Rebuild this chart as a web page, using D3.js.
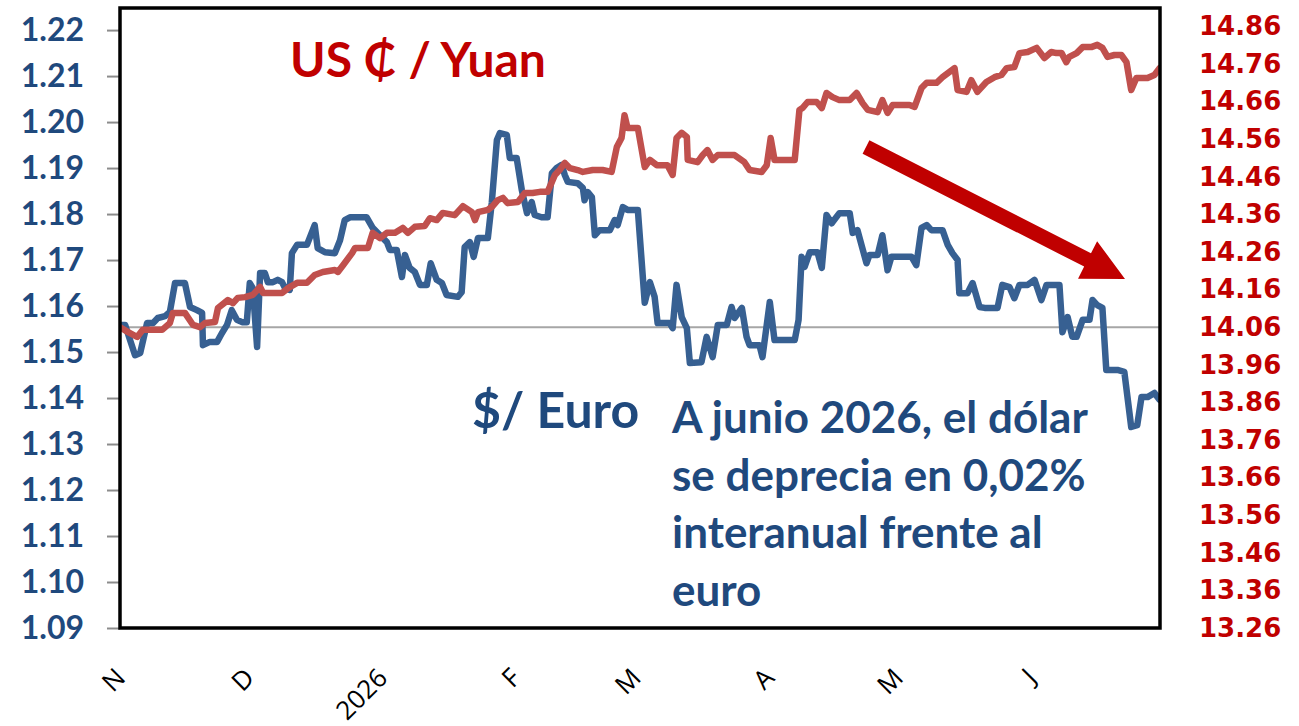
<!DOCTYPE html>
<html>
<head>
<meta charset="utf-8">
<script src="https://cdn.jsdelivr.net/npm/d3@7/dist/d3.min.js"></script>
<style>
  body { margin: 0; background: #fff; }
</style>
</head>
<body>
<div id="chart"></div>
<script>
// days counted from 1 Nov 2025 at each turn of the line
var euroDay = [0,1.2,3.5,4.7,6.3,7.7,8.8,10.5,11.6,12.8,15.1,16.3,17.9,19.1,19.3,20.9,22.6,23.7,24.9,26.0,27.2,28.4,29.5,30.2,30.9,31.9,32.6,33.7,34.4,35.6,36.7,37.7,38.4,39.5,40.0,41.2,43.5,45.3,46.0,47.7,50.0,51.2,52.3,53.5,57.4,58.8,60.5,62.1,62.8,64.4,65.6,66.3,67.4,68.6,69.8,71.4,72.3,73.7,74.9,76.0,78.6,79.5,80.2,81.4,82.3,83.3,85.6,86.5,87.7,88.4,90.0,90.7,92.3,93.5,94.7,95.8,96.5,98.1,99.5,100.5,101.6,102.8,103.5,104.2,106.5,107.7,108.1,108.8,109.8,110.5,111.6,114.0,115.1,115.8,117.0,118.1,120.5,122.1,123.3,124.4,125.1,127.9,128.6,129.5,130.7,131.9,132.6,135.3,136.5,137.9,139.1,141.2,142.3,143.0,144.7,145.8,146.5,148.8,149.5,151.2,152.3,157.0,157.9,158.6,159.3,160.5,162.3,163.3,164.4,165.6,167.4,169.8,170.5,171.6,173.7,174.4,176.3,177.4,178.6,179.5,184.2,185.3,186.5,187.7,188.8,191.4,192.6,193.7,194.9,195.3,197.2,198.4,200.0,201.2,204.2,205.3,207.0,208.1,209.3,211.2,212.8,214.4,215.6,218.6,219.3,220.5,221.6,222.6,224.0,225.6,226.3,227.4,228.6,229.5,232.1,233.7,235.3,236.7,237.7,239.1,240.7,241.9];
var euroVal = [1.1559,1.1559,1.1493,1.1498,1.1563,1.1563,1.1574,1.1578,1.1587,1.1650,1.1650,1.1598,1.1591,1.1585,1.1515,1.1522,1.1522,1.1541,1.1559,1.1591,1.1570,1.1565,1.1565,1.1650,1.1639,1.1511,1.1672,1.1672,1.1652,1.1652,1.1657,1.1652,1.1639,1.1635,1.1715,1.1733,1.1733,1.1776,1.1726,1.1717,1.1715,1.1743,1.1787,1.1793,1.1793,1.1770,1.1754,1.1739,1.1722,1.1722,1.1663,1.1711,1.1683,1.1674,1.1646,1.1646,1.1693,1.1657,1.1650,1.1624,1.1620,1.1630,1.1728,1.1739,1.1707,1.1748,1.1748,1.1824,1.1961,1.1976,1.1972,1.1922,1.1922,1.1852,1.1802,1.1826,1.1798,1.1793,1.1793,1.1889,1.1900,1.1907,1.1885,1.1870,1.1867,1.1857,1.1830,1.1848,1.1837,1.1754,1.1765,1.1765,1.1787,1.1776,1.1815,1.1809,1.1809,1.1607,1.1652,1.1620,1.1563,1.1563,1.1552,1.1646,1.1576,1.1552,1.1476,1.1478,1.1533,1.1489,1.1559,1.1559,1.1598,1.1574,1.1596,1.1533,1.1515,1.1515,1.1489,1.1609,1.1526,1.1526,1.1570,1.1707,1.1685,1.1717,1.1717,1.1683,1.1798,1.1780,1.1802,1.1802,1.1759,1.1765,1.1693,1.1711,1.1711,1.1754,1.1678,1.1707,1.1707,1.1689,1.1770,1.1776,1.1765,1.1765,1.1733,1.1715,1.1700,1.1628,1.1628,1.1650,1.1598,1.1596,1.1596,1.1646,1.1641,1.1617,1.1646,1.1646,1.1657,1.1613,1.1646,1.1646,1.1543,1.1576,1.1533,1.1533,1.1570,1.1570,1.1613,1.1602,1.1596,1.1461,1.1461,1.1457,1.1337,1.1341,1.1402,1.1402,1.1411,1.1396];
var yuanDay = [0,1.9,4.0,5.3,9.8,11.6,12.3,15.1,17.0,18.6,19.8,22.1,22.8,25.1,26.3,27.4,29.1,30.9,32.6,33.3,37.7,39.1,41.2,43.5,45.3,47.2,50.0,50.7,51.9,54.0,54.7,57.7,58.8,60.5,62.1,64.0,65.8,67.0,68.6,70.9,72.1,73.7,75.1,77.9,79.8,81.9,82.6,83.3,85.6,86.7,87.9,89.1,90.2,92.6,94.2,96.0,97.7,99.5,101.2,102.3,103.5,104.7,106.5,107.7,110.0,112.3,114.4,115.6,116.7,117.4,118.1,120.5,122.1,123.3,124.9,127.4,128.6,129.5,130.7,131.9,132.1,134.4,135.6,136.7,137.9,139.1,141.9,143.0,145.3,146.5,149.3,150.5,151.4,152.3,157.0,158.1,158.8,160.0,162.1,163.3,164.4,165.8,167.4,169.8,171.4,172.8,174.0,176.3,177.4,178.6,179.8,183.7,184.9,186.5,187.7,190.0,191.4,194.2,194.9,197.0,198.1,199.5,201.6,203.5,205.1,206.3,208.1,209.3,211.2,213.3,215.1,216.7,217.9,219.1,220.2,220.9,222.6,224.0,226.0,227.4,228.6,229.8,231.4,233.0,234.2,235.3,236.5,239.1,240.7,241.9];
var yuanVal = [14.060,14.047,14.034,14.053,14.053,14.071,14.098,14.098,14.066,14.060,14.071,14.074,14.111,14.132,14.124,14.138,14.140,14.146,14.167,14.151,14.151,14.164,14.178,14.178,14.199,14.207,14.212,14.207,14.225,14.257,14.271,14.271,14.311,14.297,14.311,14.311,14.324,14.311,14.327,14.329,14.350,14.345,14.364,14.358,14.382,14.366,14.345,14.366,14.372,14.382,14.398,14.404,14.390,14.393,14.417,14.417,14.420,14.420,14.465,14.478,14.497,14.483,14.478,14.473,14.478,14.478,14.473,14.539,14.563,14.624,14.590,14.590,14.486,14.505,14.491,14.491,14.465,14.563,14.577,14.566,14.505,14.499,14.518,14.531,14.505,14.518,14.518,14.518,14.499,14.478,14.473,14.491,14.563,14.505,14.505,14.638,14.643,14.659,14.659,14.643,14.683,14.672,14.664,14.664,14.683,14.656,14.638,14.632,14.664,14.630,14.651,14.651,14.646,14.696,14.710,14.710,14.725,14.749,14.691,14.686,14.717,14.686,14.712,14.725,14.731,14.749,14.752,14.789,14.792,14.803,14.776,14.792,14.789,14.789,14.765,14.779,14.789,14.805,14.805,14.811,14.803,14.779,14.784,14.784,14.765,14.691,14.723,14.723,14.731,14.749];

var leftTicks = [1.09,1.10,1.11,1.12,1.13,1.14,1.15,1.16,1.17,1.18,1.19,1.20,1.21,1.22];
var rightTicks = [13.26,13.36,13.46,13.56,13.66,13.76,13.86,13.96,14.06,14.16,14.26,14.36,14.46,14.56,14.66,14.76,14.86];
var monthTicks = ["2025-11-01","2025-12-01","2026-01-01","2026-02-01","2026-03-01","2026-04-01","2026-05-01","2026-06-01"];
var monthLabels = ["N","D","2026","F","M","A","M","J"];
var euroBase = 1.1554;
var noteLines = ["A junio 2026, el dólar","se deprecia en 0,02%","interanual frente al","euro"];

var width = 1299, height = 726;
var plot = {left: 120, top: 8, right: 1160, bottom: 628};

var parse = d3.utcParse("%Y-%m-%d");
var start = parse("2025-11-01");
function dayToDate(d) { return new Date(start.getTime() + d * 864e5); }

var x = d3.scaleUtc().domain([start, parse("2026-07-01")]).range([plot.left, plot.right]);
var yL = d3.scaleLinear().domain([1.09, 1.2248]).range([plot.bottom, plot.top]);
var yR = d3.scaleLinear().domain([13.26, 14.909]).range([plot.bottom, plot.top]);

var svg = d3.select("#chart").append("svg").attr("width", width).attr("height", height)
  .style("font-family", "Lato, 'Open Sans', sans-serif");

svg.append("defs").append("clipPath").attr("id", "clip")
  .append("rect").attr("x", plot.left).attr("y", plot.top)
  .attr("width", plot.right - plot.left).attr("height", plot.bottom - plot.top);

// reference line at start value
svg.append("line")
  .attr("x1", plot.left).attr("x2", plot.right)
  .attr("y1", yL(euroBase)).attr("y2", yL(euroBase))
  .attr("stroke", "#a6a6a6").attr("stroke-width", 2);

var euro = euroDay.map(function(d, i) { return {date: dayToDate(d), v: euroVal[i]}; });
var yuan = yuanDay.map(function(d, i) { return {date: dayToDate(d), v: yuanVal[i]}; });

var g = svg.append("g").attr("clip-path", "url(#clip)");
g.append("path").datum(euro)
  .attr("fill", "none").attr("stroke", "#376092").attr("stroke-width", 6.5)
  .attr("stroke-linejoin", "round").attr("stroke-linecap", "round")
  .attr("d", d3.line().x(function(d) { return x(d.date); }).y(function(d) { return yL(d.v); }));
g.append("path").datum(yuan)
  .attr("fill", "none").attr("stroke", "#c0504d").attr("stroke-width", 6.5)
  .attr("stroke-linejoin", "round").attr("stroke-linecap", "round")
  .attr("d", d3.line().x(function(d) { return x(d.date); }).y(function(d) { return yR(d.v); }));

// left axis
var axL = svg.append("g").attr("transform", "translate(" + plot.left + ",0)")
  .call(d3.axisLeft(yL).tickValues(leftTicks).tickFormat(d3.format(".2f")).tickSize(13).tickPadding(23));
axL.select(".domain").remove();
axL.selectAll(".tick line").attr("stroke", "#8c8c8c").attr("stroke-width", 2);
axL.selectAll(".tick text").attr("fill", "#1f497d").style("font-size", "32px").style("font-weight", "bold")
  .style("font-family", "Lato, sans-serif");

// right axis
var axR = svg.append("g").attr("transform", "translate(" + plot.right + ",0)")
  .call(d3.axisRight(yR).tickValues(rightTicks).tickFormat(d3.format(".2f")).tickSize(0).tickPadding(39));
axR.select(".domain").remove();
axR.selectAll(".tick text").attr("fill", "#c00000").style("font-size", "26px").style("font-weight", "bold")
  .style("font-family", "'DejaVu Sans', sans-serif");

// bottom axis, rotated month letters
var axB = svg.append("g").attr("transform", "translate(0," + (plot.bottom + 45) + ")")
  .call(d3.axisBottom(x).tickValues(monthTicks.map(parse)).tickFormat(function(d, i) { return monthLabels[i]; }).tickSize(0).tickPadding(0));
axB.select(".domain").remove();
axB.selectAll(".tick text")
  .attr("y", 0).attr("dy", "0.35em")
  .attr("transform", "rotate(-45)")
  .style("text-anchor", "end")
  .attr("fill", "#000").style("font-size", "26px").style("font-family", "'Open Sans', sans-serif");

// plot border
svg.append("rect")
  .attr("x", plot.left).attr("y", plot.top)
  .attr("width", plot.right - plot.left).attr("height", plot.bottom - plot.top)
  .attr("fill", "none").attr("stroke", "#000").attr("stroke-width", 3.5);

// labels
svg.append("text").attr("x", 290).attr("y", 77)
  .attr("fill", "#c00000").style("font-size", "48px").style("font-weight", "bold")
  .text("US ₵ / Yuan");
svg.append("text").attr("x", 472).attr("y", 428)
  .attr("fill", "#1f497d").style("font-size", "50px").style("font-weight", "bold")
  .text("$/ Euro");
svg.append("g").selectAll("text").data(noteLines).enter().append("text")
  .attr("x", 672).attr("y", function(d, i) { return 433 + i * 57.5; })
  .attr("fill", "#1f497d").style("font-size", "44px").style("font-weight", "bold")
  .text(function(d) { return d; });

// arrow
var a0 = [866, 147], a1 = [1125, 279];
var dx = a1[0] - a0[0], dy = a1[1] - a0[1], len = Math.sqrt(dx * dx + dy * dy);
var ux = dx / len, uy = dy / len, nx = -uy, ny = ux;
var headL = 42, headW = 21, shaftW = 7.5;
var bx = a1[0] - ux * headL, by = a1[1] - uy * headL;
var pts = [
  [a0[0] + nx * shaftW, a0[1] + ny * shaftW],
  [bx + nx * shaftW, by + ny * shaftW],
  [bx + nx * headW, by + ny * headW],
  a1,
  [bx - nx * headW, by - ny * headW],
  [bx - nx * shaftW, by - ny * shaftW],
  [a0[0] - nx * shaftW, a0[1] - ny * shaftW]
];
svg.append("polygon").attr("points", pts.map(function(p) { return p.join(","); }).join(" "))
  .attr("fill", "#c00000");
</script>
</body>
</html>
